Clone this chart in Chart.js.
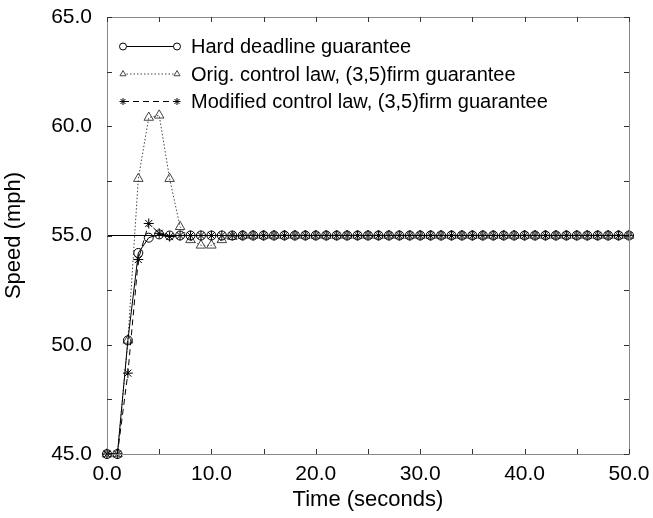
<!DOCTYPE html>
<html>
<head>
<meta charset="utf-8">
<script src="https://cdn.jsdelivr.net/npm/chart.js@4/dist/chart.umd.min.js"></script>
<style>
  body { margin: 0; background: #fff; }
</style>
</head>
<body>
<canvas id="chart" width="653" height="518"></canvas>
<script>
// time in seconds, one sample per second
const times = [0,1,2,3,4,5,6,7,8,9,10,11,12,13,14,15,16,17,18,19,20,21,22,23,24,25,26,27,28,29,30,31,32,33,34,35,36,37,38,39,40,41,42,43,44,45,46,47,48,49,50];

const hardDeadline = [45,45,50.2,54.2,54.9,55.05,55,55,55,55,55,55,55,55,55,55,55,55,55,55,55,55,55,55,55,55,55,55,55,55,55,55,55,55,55,55,55,55,55,55,55,55,55,55,55,55,55,55,55,55,55];
const origControl = [45,45,50.2,57.6,60.4,60.5,57.6,55.4,54.8,54.55,54.55,54.8,54.95,55,55,55,55,55,55,55,55,55,55,55,55,55,55,55,55,55,55,55,55,55,55,55,55,55,55,55,55,55,55,55,55,55,55,55,55,55,55];
const modifiedControl = [45,45,48.7,53.9,55.55,55.1,54.95,55,55,55,55,55,55,55,55,55,55,55,55,55,55,55,55,55,55,55,55,55,55,55,55,55,55,55,55,55,55,55,55,55,55,55,55,55,55,55,55,55,55,55,55];

const targetSpeed = 55;
const seriesNames = [
  'Hard deadline guarantee',
  'Orig. control law, (3,5)firm guarantee',
  'Modified control law, (3,5)firm guarantee'
];

const FONT = '"Liberation Sans", Arial, Helvetica, sans-serif';

function pts(vals) {
  return vals.map((v, i) => ({ x: times[i], y: v }));
}

// inward ticks on all four sides, frame, and the line-with-two-markers legend
const framePlugin = {
  id: 'frame',
  afterDraw(chart) {
    const { ctx, chartArea: a, scales } = chart;
    ctx.save();
    ctx.strokeStyle = '#888';
    ctx.lineWidth = 1;
    ctx.strokeRect(a.left + 0.5, a.top + 0.5, a.right - a.left, a.bottom - a.top);
    ctx.strokeStyle = '#333';
    const len = 5;
    ctx.beginPath();
    scales.x.ticks.forEach(t => {
      const px = Math.round(scales.x.getPixelForValue(t.value)) + 0.5;
      ctx.moveTo(px, a.bottom); ctx.lineTo(px, a.bottom - len);
      ctx.moveTo(px, a.top); ctx.lineTo(px, a.top + len);
    });
    scales.y.ticks.forEach(t => {
      const py = Math.round(scales.y.getPixelForValue(t.value)) + 0.5;
      ctx.moveTo(a.left, py); ctx.lineTo(a.left + len, py);
      ctx.moveTo(a.right, py); ctx.lineTo(a.right - len, py);
    });
    ctx.stroke();

    // legend
    const x1 = 123, x2 = 177, tx = 191;
    const rows = [46.5, 74, 101.5];
    ctx.font = '20px ' + FONT;
    ctx.textBaseline = 'middle';
    ctx.fillStyle = '#000';
    for (let i = 0; i < 3; i++) {
      const ds = chart.data.datasets[i];
      const y = rows[i];
      ctx.save();
      ctx.strokeStyle = ds.borderColor;
      ctx.lineWidth = ds.borderWidth;
      ctx.setLineDash(ds.borderDash || []);
      ctx.beginPath();
      ctx.moveTo(x1, y); ctx.lineTo(x2, y);
      ctx.stroke();
      ctx.restore();
      const opts = {
        pointStyle: ds.pointStyle, radius: 3.5, rotation: 0,
        borderWidth: ds.pointBorderWidth
      };
      ctx.save();
      ctx.strokeStyle = ds.pointBorderColor;
      ctx.fillStyle = '#fff';
      ctx.lineWidth = ds.pointBorderWidth;
      Chart.helpers.drawPoint(ctx, opts, x1, y);
      Chart.helpers.drawPoint(ctx, opts, x2, y);
      ctx.restore();
      ctx.fillText(seriesNames[i], tx, y + 1);
    }
    ctx.restore();
  }
};

new Chart(document.getElementById('chart'), {
  type: 'scatter',
  data: {
    datasets: [
      {
        label: seriesNames[0],
        data: pts(hardDeadline),
        showLine: true,
        borderColor: '#000',
        borderWidth: 1,
        pointStyle: 'circle',
        pointRadius: 4.5,
        pointBorderColor: '#000',
        pointBackgroundColor: 'rgba(255,255,255,0)',
        pointBorderWidth: 1,
        clip: false
      },
      {
        label: seriesNames[1],
        data: pts(origControl),
        showLine: true,
        borderColor: '#444',
        borderWidth: 1,
        borderDash: [1.5, 2],
        pointStyle: 'triangle',
        pointRadius: 5.5,
        pointBorderColor: '#444',
        pointBackgroundColor: 'rgba(255,255,255,0)',
        pointBorderWidth: 1,
        clip: false
      },
      {
        label: seriesNames[2],
        data: pts(modifiedControl),
        showLine: true,
        borderColor: '#000',
        borderWidth: 1,
        borderDash: [6, 4],
        pointStyle: 'star',
        pointRadius: 5,
        pointBorderColor: '#000',
        pointBackgroundColor: 'rgba(0,0,0,0)',
        pointBorderWidth: 1,
        clip: false
      },
      {
        label: 'target',
        data: [{ x: times[0], y: targetSpeed }, { x: times[times.length - 1], y: targetSpeed }],
        showLine: true,
        borderColor: '#000',
        borderWidth: 1,
        pointRadius: 0
      }
    ]
  },
  options: {
    responsive: false,
    animation: false,
    layout: { padding: { left: 0, right: 24, top: 17, bottom: 0 } },
    plugins: { legend: { display: false }, tooltip: { enabled: false } },
    scales: {
      x: {
        type: 'linear',
        min: 0, max: 50,
        grid: { display: false, drawTicks: false },
        border: { display: false },
        afterFit: s => { s.height = 64; s.paddingLeft = 0; s.paddingRight = 0; },
        ticks: {
          stepSize: 5,
          autoSkip: false,
          maxRotation: 0,
          padding: 8,
          color: '#000',
          font: { family: FONT, size: 21 },
          callback: v => (v % 10 === 0 ? v.toFixed(1) : '')
        },
        title: {
          display: true, text: 'Time (seconds)', color: '#000',
          font: { family: FONT, size: 22 },
          padding: { top: 0, bottom: 5 }
        }
      },
      y: {
        min: 45, max: 65,
        grid: { display: false, drawTicks: false },
        border: { display: false },
        afterFit: s => { s.width = 107; s.paddingTop = 0; s.paddingBottom = 0; },
        ticks: {
          stepSize: 2.5,
          autoSkip: false,
          padding: 15,
          color: '#000',
          font: { family: FONT, size: 21 },
          callback: v => (v % 5 === 0 ? v.toFixed(1) : '')
        },
        title: {
          display: true, text: 'Speed (mph)', color: '#000',
          font: { family: FONT, size: 22 },
          padding: { top: 1, bottom: 0 }
        }
      }
    }
  },
  plugins: [framePlugin]
});
</script>
</body>
</html>
